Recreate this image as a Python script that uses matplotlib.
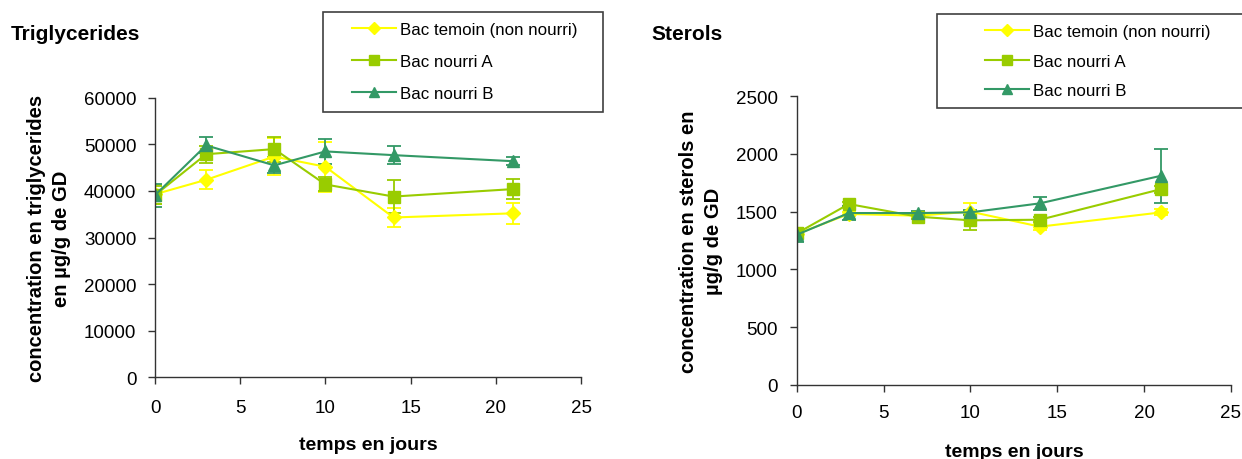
import matplotlib.pyplot as plt
from matplotlib.lines import Line2D
from matplotlib.patches import Rectangle

plt.rcParams['font.family'] = ['Liberation Sans', 'DejaVu Sans']

# Sampling days
days = [0, 3, 7, 10, 14, 21]

labels = ['Bac temoin (non nourri)', 'Bac nourri A', 'Bac nourri B']
colors = ['#FFFF00', '#99CC00', '#339966']
markers = ['D', 's', '^']

# Triglycerides (µg/g GD) and standard deviations
tg_temoin = [39300, 42400, 47400, 45200, 34300, 35200]
tg_temoin_err = [2000, 2000, 4000, 5400, 2000, 2200]
tg_a = [39100, 47900, 49000, 41400, 38800, 40400]
tg_a_err = [2000, 1800, 2700, 1500, 3600, 2200]
tg_b = [39100, 49800, 45500, 48500, 47700, 46400]
tg_b_err = [2500, 1700, 1700, 2600, 2000, 800]

# Sterols (µg/g GD) and standard deviations
st_temoin = [1306, 1480, 1465, 1500, 1370, 1494]
st_temoin_err = [30, 20, 20, 75, 25, 25]
st_a = [1312, 1566, 1456, 1425, 1430, 1696]
st_a_err = [30, 20, 20, 80, 20, 30]
st_b = [1300, 1488, 1488, 1494, 1572, 1812]
st_b_err = [60, 60, 20, 20, 55, 235]

fig = plt.figure(figsize=(12.42, 4.6), dpi=100)
ax1 = fig.add_axes([0.1248, 0.178, 0.343, 0.607])
ax2 = fig.add_axes([0.6415, 0.1615, 0.3496, 0.627])


def draw(ax, series, ymax, ystep, xpad, xlabpad):
    for (vals, errs), col, mk in zip(series, colors, markers):
        ax.errorbar(days, vals, yerr=errs, color=col, marker=mk,
                    markersize=8 if mk != 'D' else 7.5, linewidth=1.5,
                    elinewidth=1.3, capsize=5, capthick=1.3)
    ax.set_xlim(0, 25)
    ax.set_ylim(0, ymax)
    ax.set_xticks(range(0, 26, 5))
    ax.set_yticks(range(0, ymax + 1, ystep))
    for s in ['top', 'right']:
        ax.spines[s].set_visible(False)
    for s in ['left', 'bottom']:
        ax.spines[s].set_linewidth(1.0)
        ax.spines[s].set_color('#333333')
    ax.tick_params(direction='out', length=5, width=1, colors='#333333',
                   labelcolor='black', labelsize=13.5)
    ax.tick_params(axis='y', pad=8.5)
    ax.tick_params(axis='x', pad=xpad)
    ax.set_xlabel('temps en jours', fontsize=14, fontweight='bold',
                  labelpad=xlabpad)


draw(ax1, [(tg_temoin, tg_temoin_err), (tg_a, tg_a_err), (tg_b, tg_b_err)],
     60000, 10000, 11, 14)
draw(ax2, [(st_temoin, st_temoin_err), (st_a, st_a_err), (st_b, st_b_err)],
     2500, 500, 9, 16)

ax1.set_ylabel('concentration en triglycerides\nen µg/g de GD', fontsize=14.5,
               fontweight='bold', labelpad=9, linespacing=1.4)
ax2.set_ylabel('concentration en sterols en\nµg/g de GD', fontsize=14.5,
               fontweight='bold', labelpad=9, linespacing=1.4)

fig.text(0.009, 0.926, 'Triglycerides', fontsize=15, fontweight='bold', va='center')
fig.text(0.5245, 0.926, 'Sterols', fontsize=15, fontweight='bold', va='center')

# Legend boxes with plain line + marker handles
handles = [Line2D([], [], color=c, marker=m, linewidth=1.5,
                  markersize=7 if m != 'D' else 6.5)
           for c, m in zip(colors, markers)]
boxes = [(323, 13, 280, 100, 352, 1.0), (937, 15, 310, 94, 985, 0.86)]
for x0, y0, w, h, hx, spacing in boxes:
    fig.patches.append(Rectangle((x0 / 1242, 1 - (y0 + h) / 460), w / 1242, h / 460,
                                 transform=fig.transFigure, facecolor='white',
                                 edgecolor='#404040', linewidth=1.2, zorder=5))
    leg = fig.legend(handles, labels, loc='upper left',
                     bbox_to_anchor=(hx / 1242, 1 - (y0 + 10) / 460),
                     frameon=False, fontsize=12.2, handlelength=2.6,
                     handletextpad=0.25, labelspacing=spacing, borderpad=0,
                     borderaxespad=0)
    leg.set_zorder(6)

fig.savefig('out.png', dpi=100)
